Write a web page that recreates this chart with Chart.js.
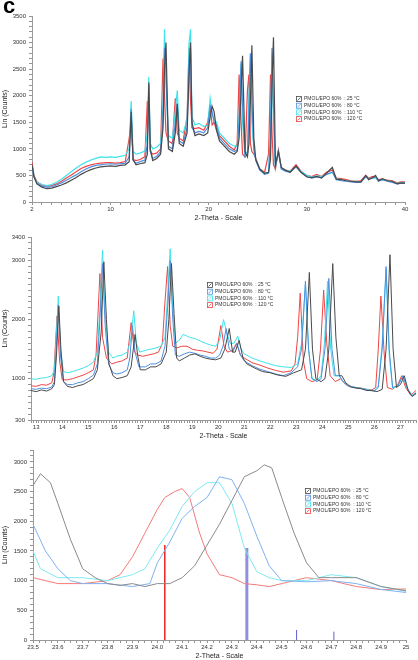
<!DOCTYPE html>
<html>
<head>
<meta charset="utf-8">
<script src="https://cdn.jsdelivr.net/npm/chart.js@4.4.0/dist/chart.umd.min.js"></script>
<style>
  body { margin: 0; background: #fff; width: 418px; height: 660px; position: relative; overflow: hidden; }
  canvas { position: absolute; left: 0; }
  #panel { position: absolute; left: 3px; top: -7px; font: bold 22px Arial, "Liberation Sans", sans-serif; color: #000; }
</style>
</head>
<body>
<canvas id="full" width="418" height="222" style="top:0"></canvas>
<canvas id="mid" width="418" height="218" style="top:222px"></canvas>
<canvas id="zoom" width="418" height="220" style="top:440px"></canvas>
<div id="panel">c</div>
<script>
const seriesLabels = ['PMOL/EPO 60%  : 25 °C', 'PMOL/EPO 60%  : 80 °C', 'PMOL/EPO 60%  : 110 °C', 'PMOL/EPO 60%  : 120 °C'];
const seriesColors = ['#4a4a4a', '#4f8fe0', '#3fe3ea', '#f04545'];
const zoomColors = ['#8a8a8a', '#7fb2f2', '#7eeaf0', '#f47b7b'];

// top panel, full scan 2-40 deg (shared 2-theta grid)
const fullX = [2, 2.2, 2.5, 3, 3.5, 4, 4.5, 5, 5.5, 6, 6.5, 7, 7.5, 8, 8.5, 9, 9.5, 10, 10.5, 11,
  11.5, 11.9, 12.1, 12.3, 12.6, 13, 13.5, 13.75, 13.9, 14.05, 14.3, 14.7, 15.1, 15.35, 15.5, 15.65, 15.9, 16.3, 16.6, 16.8,
  17.0, 17.4, 17.8, 18.0, 18.15, 18.3, 18.6, 19.0, 19.5, 19.9, 20.15, 20.35, 20.55, 20.8, 21.1, 21.6, 22.1, 22.6,
  22.9, 23.1, 23.3, 23.45, 23.7, 23.95, 24.1, 24.25, 24.4, 24.6, 24.8, 25.2, 25.7, 26.1, 26.3, 26.45, 26.6, 26.8, 27.1, 27.4,
  27.8, 28.3, 28.9, 29.4, 30, 30.5, 31, 31.5, 32, 32.6, 33, 33.5, 34, 34.5, 35, 35.5, 36, 36.3, 36.7, 37,
  37.3, 37.7, 38.2, 38.7, 39.2, 39.6, 40];
const full25 = [700, 480, 340, 280, 250, 260, 290, 320, 360, 410, 460, 520, 570, 610, 640, 660, 670, 680, 670, 690,
  700, 760, 1700, 800, 700, 720, 740, 900, 2250, 1000, 780, 820, 900, 1400, 2500, 3000, 1000, 950, 1300, 1850,
  1100, 1050, 1300, 2400, 3000, 1500, 1250, 1280, 1250, 1300, 1600, 1800, 1700, 1350, 1150, 1050, 950, 900,
  950, 1200, 2100, 2750, 950, 850, 1100, 1900, 2950, 1200, 800, 620, 540, 560, 800, 2200, 3100, 700, 950, 650,
  600, 560, 680, 560, 470, 460, 480, 450, 540, 650, 430, 420, 400, 390, 380, 380, 500, 420, 460, 500,
  400, 440, 400, 390, 340, 360, 350];
const full80 = [680, 470, 350, 300, 280, 290, 320, 360, 410, 460, 510, 570, 620, 660, 690, 700, 710, 720, 710, 720,
  730, 850, 1750, 780, 730, 760, 790, 1100, 2200, 950, 820, 860, 950, 1600, 2900, 2500, 1050, 1000, 1500, 1850,
  1150, 1100, 1400, 2700, 2900, 1400, 1300, 1330, 1300, 1400, 1800, 1700, 1500, 1450, 1200, 1100, 1000, 950,
  980, 1500, 2650, 1800, 850, 900, 1700, 2800, 1900, 1000, 780, 600, 520, 540, 1200, 2900, 1800, 650, 950, 620,
  580, 560, 660, 560, 480, 450, 470, 460, 520, 560, 420, 400, 390, 380, 370, 370, 480, 430, 450, 470,
  390, 420, 390, 370, 340, 350, 360];
const full110 = [650, 470, 370, 330, 310, 330, 370, 430, 500, 570, 640, 700, 750, 790, 820, 850, 840, 850, 840, 860,
  880, 1000, 1900, 950, 900, 920, 960, 1300, 2350, 1100, 1000, 1030, 1100, 1800, 3250, 2200, 1250, 1200, 1700, 2100,
  1350, 1300, 1550, 3000, 3250, 1600, 1450, 1480, 1420, 1450, 1950, 1650, 1550, 1500, 1300, 1200, 1100, 1050,
  1050, 1600, 2600, 1500, 900, 950, 2000, 2750, 1500, 1000, 800, 620, 540, 560, 1300, 2800, 1500, 680, 950, 640,
  600, 580, 660, 580, 500, 470, 490, 480, 520, 560, 440, 420, 400, 390, 390, 380, 470, 440, 450, 460,
  400, 420, 400, 380, 350, 360, 370];
const full120 = [750, 500, 380, 320, 300, 310, 340, 390, 450, 510, 570, 630, 670, 700, 720, 730, 740, 740, 730, 740,
  760, 1200, 1500, 800, 780, 800, 850, 1900, 1600, 950, 900, 920, 1000, 2700, 2000, 1300, 1150, 1100, 1950, 1300,
  1200, 1150, 1600, 2900, 1900, 1400, 1380, 1400, 1350, 1500, 1800, 1450, 1500, 1350, 1250, 1150, 1050, 980,
  1100, 2400, 1500, 900, 850, 2100, 2400, 1100, 950, 900, 820, 620, 560, 900, 2400, 1300, 700, 620, 980, 640,
  600, 580, 700, 580, 500, 480, 520, 480, 560, 600, 450, 440, 420, 400, 390, 400, 500, 450, 480, 470,
  420, 430, 410, 400, 360, 380, 380];

// middle panel, 12.8-27.6 deg, [2theta, counts]
const mid25 = [[12.8,800],[13.0,780],[13.2,810],[13.4,790],[13.6,830],[13.7,900],[13.78,1400],[13.87,2230],[13.95,1500],[14.05,950],
  [14.2,870],[14.4,850],[14.6,880],[14.8,900],[15.0,950],[15.2,1000],[15.35,1150],[15.5,1800],[15.6,2980],[15.7,2000],
  [15.8,1250],[15.95,1050],[16.1,1000],[16.3,1020],[16.5,1050],[16.65,1200],[16.8,1750],[16.9,1400],[17.0,1150],[17.2,1150],
  [17.4,1200],[17.6,1200],[17.8,1250],[18.0,1450],[18.1,2000],[18.2,2950],[18.3,2100],[18.4,1350],[18.5,1300],[18.7,1350],
  [18.9,1400],[19.1,1420],[19.3,1380],[19.5,1350],[19.7,1330],[19.9,1320],[20.1,1350],[20.25,1500],[20.42,1850],[20.55,1450],
  [20.65,1450],[20.8,1650],[20.95,1350],[21.1,1250],[21.4,1180],[21.7,1120],[22.0,1100],[22.3,1060],[22.6,1040],[22.9,1100],
  [23.2,1150],[23.35,1500],[23.5,2800],[23.62,1500],[23.75,1000],[23.95,950],[24.1,1000],[24.25,1500],[24.4,2950],[24.52,1700],
  [24.65,1050],[24.75,1050],[24.9,930],[25.1,860],[25.3,840],[25.5,830],[25.7,800],[25.9,800],[26.1,780],[26.3,820],
  [26.45,1500],[26.6,3100],[26.72,1500],[26.85,850],[27.0,900],[27.15,1050],[27.3,800],[27.45,700],[27.6,760]];
const mid80 = [[12.8,830],[13.0,820],[13.2,840],[13.4,830],[13.6,860],[13.7,950],[13.77,1500],[13.85,2250],[13.93,1400],[14.05,950],
  [14.2,900],[14.4,900],[14.6,930],[14.8,950],[15.0,1000],[15.2,1060],[15.35,1250],[15.45,2000],[15.55,2950],[15.65,1900],
  [15.78,1250],[15.95,1100],[16.1,1080],[16.3,1100],[16.5,1150],[16.6,1350],[16.7,1900],[16.8,1450],[16.95,1200],[17.2,1200],
  [17.4,1250],[17.6,1250],[17.8,1300],[17.95,1550],[18.05,2200],[18.15,3000],[18.25,2000],[18.35,1400],[18.5,1380],[18.7,1420],
  [18.9,1450],[19.1,1430],[19.3,1400],[19.5,1380],[19.7,1350],[19.9,1350],[20.05,1400],[20.18,1550],[20.3,1850],[20.42,1500],
  [20.55,1450],[20.72,1600],[20.85,1400],[21.0,1300],[21.3,1220],[21.6,1160],[21.9,1120],[22.2,1080],[22.5,1050],[22.8,1100],
  [23.05,1200],[23.2,1500],[23.35,2650],[23.47,1500],[23.6,1000],[23.8,950],[23.95,1000],[24.1,1500],[24.25,2700],[24.37,1500],
  [24.5,1050],[24.65,1050],[24.8,950],[25.0,870],[25.2,850],[25.4,840],[25.6,820],[25.8,800],[26.0,790],[26.15,850],
  [26.3,1500],[26.45,2900],[26.57,1500],[26.7,850],[26.9,880],[27.1,1050],[27.25,850],[27.45,700],[27.6,740]];
const mid110 = [[12.8,1000],[13.0,990],[13.2,1010],[13.4,1020],[13.6,1050],[13.7,1150],[13.77,1700],[13.85,2400],[13.93,1500],[14.05,1120],
  [14.2,1100],[14.4,1120],[14.6,1150],[14.8,1180],[15.0,1220],[15.2,1280],[15.35,1450],[15.45,2200],[15.55,3180],[15.65,2100],
  [15.78,1450],[15.95,1350],[16.1,1380],[16.3,1400],[16.5,1450],[16.63,1650],[16.75,2150],[16.85,1600],[16.98,1450],[17.2,1480],
  [17.4,1500],[17.6,1520],[17.8,1550],[17.95,1700],[18.05,2400],[18.15,3200],[18.25,2200],[18.35,1600],[18.5,1650],[18.65,1750],
  [18.9,1700],[19.1,1680],[19.3,1640],[19.5,1600],[19.7,1570],[19.9,1550],[20.05,1650],[20.2,2000],[20.32,1800],[20.45,1600],
  [20.6,1600],[20.75,1720],[20.88,1500],[21.0,1420],[21.3,1350],[21.6,1300],[21.9,1260],[22.2,1220],[22.5,1200],[22.8,1190],
  [23.05,1250],[23.2,1600],[23.35,2600],[23.47,1500],[23.6,1000],[23.8,970],[23.95,1050],[24.08,1600],[24.2,2650],[24.32,1500],
  [24.45,1050],[24.65,1050],[24.8,950],[25.0,880],[25.2,860],[25.4,840],[25.6,830],[25.8,810],[26.0,800],[26.15,880],
  [26.3,1600],[26.45,2850],[26.57,1400],[26.7,840],[26.9,870],[27.1,1050],[27.25,850],[27.45,720],[27.6,760]];
const mid120 = [[12.8,880],[13.0,870],[13.2,900],[13.4,890],[13.6,930],[13.68,1100],[13.8,2060],[13.9,1300],[14.0,980],[14.2,980],
  [14.4,1000],[14.6,1030],[14.8,1060],[15.0,1100],[15.2,1150],[15.3,1400],[15.45,2780],[15.55,1700],[15.7,1350],[15.9,1250],
  [16.1,1280],[16.3,1300],[16.5,1350],[16.65,1950],[16.78,1450],[16.9,1400],[17.1,1380],[17.3,1400],[17.5,1420],[17.7,1450],
  [17.85,1600],[17.95,2300],[18.05,2900],[18.15,1900],[18.25,1550],[18.4,1520],[18.6,1550],[18.8,1550],[19.0,1500],[19.2,1480],
  [19.4,1470],[19.6,1450],[19.8,1430],[19.95,1500],[20.1,1900],[20.22,1550],[20.35,1450],[20.55,1480],[20.7,1600],[20.85,1400],
  [21.0,1350],[21.3,1270],[21.6,1230],[21.9,1180],[22.2,1140],[22.5,1110],[22.8,1130],[22.95,1250],[23.05,1700],[23.15,2450],
  [23.27,1300],[23.4,1000],[23.6,950],[23.8,980],[23.93,1500],[24.05,2500],[24.17,1600],[24.3,1050],[24.5,950],[24.7,1000],
  [24.9,900],[25.1,870],[25.3,850],[25.5,840],[25.7,820],[25.9,810],[26.05,850],[26.15,1500],[26.25,2400],[26.38,1400],
  [26.5,850],[26.7,820],[26.9,900],[27.05,1050],[27.2,850],[27.4,720],[27.6,800]];

// bottom panel, 23.5-25 deg
const zoom25 = [[23.5,2600],[23.53,2800],[23.57,2650],[23.6,2300],[23.65,1700],[23.7,1200],[23.75,1050],[23.8,950],[23.85,920],
  [23.9,950],[23.95,900],[24.0,950],[24.05,950],[24.1,1050],[24.15,1250],[24.2,1600],[24.25,1950],[24.3,2350],[24.35,2750],
  [24.4,2850],[24.43,2950],[24.46,2900],[24.5,2400],[24.55,1800],[24.6,1300],[24.65,1050],[24.7,1050],[24.8,1050],[24.9,900],[25,830]];
const zoom80 = [[23.5,1950],[23.55,1500],[23.6,1200],[23.65,1000],[23.7,950],[23.8,950],[23.9,900],[23.97,950],[24.0,1300],
  [24.05,1650],[24.1,2050],[24.15,2250],[24.2,2400],[24.25,2750],[24.3,2700],[24.35,2300],[24.4,1750],[24.45,1250],[24.5,1000],
  [24.6,980],[24.7,1000],[24.8,950],[24.9,850],[25,800]];
const zoom110 = [[23.5,1500],[23.53,1200],[23.6,1050],[23.7,1050],[23.8,1000],[23.9,1100],[23.95,1200],[24.0,1550],[24.05,1850],
  [24.1,2250],[24.15,2500],[24.2,2650],[24.25,2650],[24.3,2300],[24.35,1550],[24.4,1150],[24.45,1050],[24.5,1000],[24.6,1000],
  [24.7,1100],[24.8,1050],[24.9,900],[25,820]];
const zoom120 = [[23.5,1050],[23.6,950],[23.7,950],[23.8,1000],[23.85,1100],[23.9,1400],[23.95,1800],[24.0,2200],[24.03,2400],
  [24.07,2500],[24.1,2550],[24.13,2400],[24.17,1800],[24.2,1450],[24.25,1100],[24.3,1050],[24.35,950],[24.4,930],[24.45,900],
  [24.5,950],[24.6,1050],[24.7,1000],[24.8,900],[24.9,850],[25,860]];
const stickX = [24.03, 24.36, 24.56, 24.71];
const stickY = [1600, 1550, 170, 140];
const stickColors = ['#ee2222', '#9090dd', '#6060cc', '#6060cc'];
const stickWidths = [1.5, 3, 1, 1];

function fromGrid(xs, ys) { return xs.map((x, i) => ({ x: x, y: ys[i] })); }
function fromPairs(p) { return p.map(d => ({ x: d[0], y: d[1] })); }

function tickList(min, max, step) {
  const n = Math.round((max - min) / step);
  const out = [];
  for (let i = 0; i <= n; i++) out.push(+(min + i * step).toFixed(4));
  return out;
}

function axis(o) {
  return {
    type: 'linear',
    min: o.min,
    max: o.max,
    afterBuildTicks: s => { s.ticks = tickList(o.min, o.max, o.step).map(v => ({ value: v })); },
    afterFit: s => { if (o.width) s.width = o.width; if (o.height) s.height = o.height; },
    ticks: {
      autoSkip: false, maxRotation: 0, minRotation: 0, padding: o.pad,
      color: '#333', font: { size: 6, family: 'Arial' },
      callback: v => o.label(v)
    },
    grid: { drawOnChartArea: false, tickLength: 3, tickColor: '#888', tickWidth: 0.9 },
    border: { color: '#999', width: 1 },
    title: {
      display: true, text: o.title, color: '#222',
      font: { size: 7, family: 'Arial', lineHeight: 1 },
      padding: o.titlePad
    }
  };
}

const boxLegend = {
  id: 'boxLegend',
  afterDraw(chart, args, opts) {
    const ctx = chart.ctx;
    ctx.save();
    ctx.font = '5px Arial';
    ctx.textBaseline = 'middle';
    seriesLabels.forEach((t, i) => {
      const y = opts.y + i * 6.7;
      ctx.strokeStyle = seriesColors[i];
      ctx.lineWidth = 0.8;
      ctx.strokeRect(opts.x + 0.5, y - 2.5, 5, 5);
      ctx.beginPath();
      ctx.moveTo(opts.x + 1.5, y + 1.5);
      ctx.lineTo(opts.x + 4.5, y - 1.5);
      ctx.stroke();
      ctx.fillStyle = '#333';
      ctx.fillText(t, opts.x + 8, y);
    });
    ctx.restore();
  }
};

function lineSet(data, color, width) {
  return { data: data, borderColor: color, borderWidth: width, pointRadius: 0, fill: false, tension: 0 };
}

function makeChart(id, datasets, xo, yo, pad, legendAt) {
  new Chart(document.getElementById(id), {
    type: 'line',
    data: { datasets: datasets },
    options: {
      responsive: false,
      animation: false,
      layout: { padding: pad },
      plugins: { legend: { display: false }, tooltip: { enabled: false }, boxLegend: legendAt },
      scales: { x: axis(xo), y: axis(yo) }
    },
    plugins: [boxLegend]
  });
}

const isInt = v => Math.abs(v - Math.round(v)) < 1e-6;

makeChart('full',
  [full25, full80, full110, full120].map((ys, i) => lineSet(fromGrid(fullX, ys), seriesColors[i], 1.2)),
  { min: 2, max: 40, step: 1, pad: 1, height: 20, title: '2-Theta - Scale', titlePad: { top: 0, bottom: 0 },
    label: v => [2, 10, 20, 30, 40].includes(v) ? String(v) : '' },
  { min: 0, max: 3500, step: 100, pad: 3, width: 32, title: 'Lin (Counts)', titlePad: { top: 1.5, bottom: 0 },
    label: v => v % 500 === 0 ? String(v) : '' },
  { left: 0, right: 13, top: 16, bottom: 0 },
  { x: 296, y: 99 });

makeChart('mid',
  [mid25, mid80, mid110, mid120].map((p, i) => lineSet(fromPairs(p), seriesColors[i], 1)),
  { min: 12.8, max: 27.6, step: 0.1, pad: 1, height: 20, title: '2-Theta - Scale', titlePad: { top: 0, bottom: 0 },
    label: v => isInt(v) ? String(Math.round(v)) : '' },
  { min: 300, max: 3400, step: 100, pad: 3, width: 31, title: 'Lin (Counts)', titlePad: { top: 1.5, bottom: 0 },
    label: v => [300, 1000, 2000, 3000, 3400].includes(v) ? String(v) : '' },
  { left: 0, right: 2, top: 15, bottom: 0 },
  { x: 207, y: 63 });

const zoomSets = [zoom25, zoom80, zoom110, zoom120].map((p, i) => lineSet(fromPairs(p), zoomColors[i], 1));
stickX.forEach((x, i) => {
  zoomSets.push(lineSet([{ x: x, y: 0 }, { x: x, y: stickY[i] }], stickColors[i], stickWidths[i]));
});

makeChart('zoom', zoomSets,
  { min: 23.5, max: 25, step: 0.025, pad: 1, height: 20, title: '2-Theta - Scale', titlePad: { top: 0, bottom: 0 },
    label: v => isInt(v * 10) ? (v === 25 ? '25' : v.toFixed(1)) : '' },
  { min: 0, max: 3200, step: 100, pad: 3, width: 33, title: 'Lin (Counts)', titlePad: { top: 1.5, bottom: 0 },
    label: v => (v % 500 === 0 && v <= 3000) ? String(v) : '' },
  { left: 0, right: 12, top: 10, bottom: 0 },
  { x: 305, y: 51 });
</script>
</body>
</html>
